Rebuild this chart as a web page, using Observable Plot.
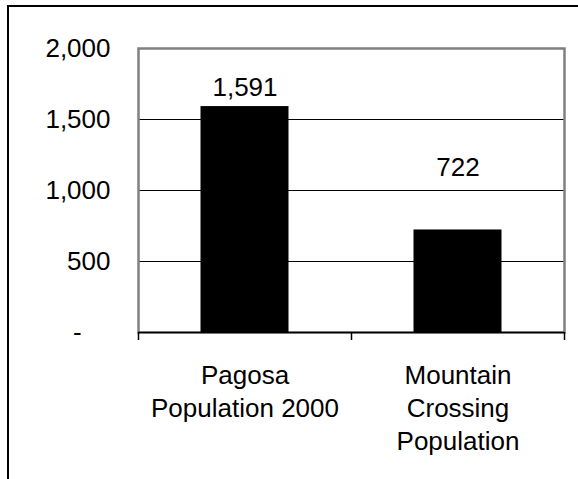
<!DOCTYPE html>
<html>
<head>
<meta charset="utf-8">
<script src="https://cdn.jsdelivr.net/npm/d3@7"></script>
<script src="https://cdn.jsdelivr.net/npm/@observablehq/plot@0.6"></script>
<style>
  html, body { margin: 0; padding: 0; background: #fff; overflow: hidden; }
  #wrap { position: relative; width: 578px; height: 479px; overflow: hidden; }
  #border { position: absolute; left: 7px; top: 5px; width: 600px; height: 600px; border: 2px solid #000; box-sizing: border-box; pointer-events: none; }
  #chart svg { display: block; }
</style>
</head>
<body>
<div id="wrap">
  <div id="chart"></div>
  <div id="border"></div>
</div>
<script>
// Data
const categories = ["Pagosa\nPopulation 2000", "Mountain\nCrossing\nPopulation"];
const populations = [1591, 722];
const yTicks = [0, 500, 1000, 1500, 2000];
const gridValues = [500, 1000, 1500];

const data = categories.map((c, i) => ({category: c, population: populations[i]}));

const W = 578, H = 479, ML = 138, MR = 14, MT = 48, MB = 147;
const step = (W - ML - MR) / categories.length;
const fmt = d3.format(",");

const chart = Plot.plot({
  width: W,
  height: H,
  marginLeft: ML,
  marginRight: MR,
  marginTop: MT,
  marginBottom: MB,
  style: {fontFamily: "'Liberation Sans', Arial, sans-serif", fontSize: "26px", background: "transparent", color: "#000"},
  x: {domain: categories, padding: 0, axis: null, label: null},
  y: {domain: [0, 2000], axis: null, label: null},
  marks: [
    Plot.ruleY(gridValues, {stroke: "#000", strokeWidth: 1}),
    Plot.frame({stroke: "#808080", strokeWidth: 2.5}),
    Plot.barY(data, {x: "category", y: "population", fill: "#000", insetLeft: 62.5, insetRight: 62.5}),
    Plot.ruleY([0], {stroke: "#000", strokeWidth: 1.5}),
    // boundary tick marks on the x axis
    Plot.ruleX(categories, {x: d => d, y1: 0, y2: 0, insetBottom: -8, dx: -step / 2, stroke: "#000", strokeWidth: 1.5}),
    Plot.ruleX(categories.slice(-1), {x: d => d, y1: 0, y2: 0, insetBottom: -8, dx: step / 2, stroke: "#000", strokeWidth: 1.5}),
    Plot.axisY({ticks: yTicks, tickSize: 0, tickPadding: 28, fontSize: 26, fill: "#000", label: null,
      tickFormat: d => d === 0 ? "-\u2007\u2007" : fmt(d)}),
    Plot.axisX({tickSize: 0, tickPadding: 28, fontSize: 26, lineHeight: 1.27, fill: "#000", label: null}),
    Plot.text(data, {filter: d => d.population === populations[0], x: "category", y: "population",
      text: d => fmt(d.population), dy: -19, fontSize: 26, fill: "#000"}),
    Plot.text(data, {filter: d => d.population === populations[1], x: "category", y: "population",
      text: d => fmt(d.population), dy: -62, fontSize: 26, fill: "#000"})
  ]
});
document.getElementById("chart").appendChild(chart);
</script>
</body>
</html>
